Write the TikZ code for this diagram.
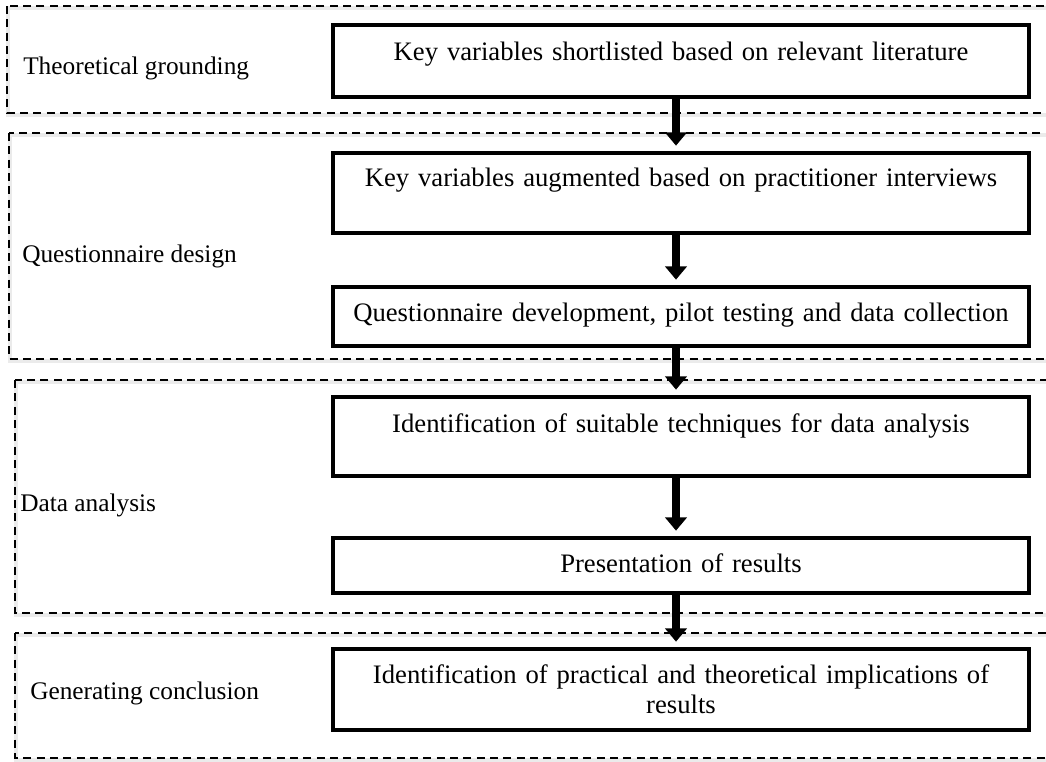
\documentclass[tikz,border=0pt]{standalone}
\usepackage{fontspec}
\setmainfont{Liberation Serif}
\usetikzlibrary{arrows.meta}

\begin{document}
\begin{tikzpicture}[x=0.75pt, y=-0.75pt,
  task/.style={draw, line width=3pt, inner sep=0pt, text width=522pt, align=center,
    font=\fontsize{20pt}{22.5pt}\selectfont},
  taskline/.style 2 args={task, anchor=base, text height=#1, text depth=#2},
  phasebox/.style={draw, line width=1.1pt, dash pattern=on 6pt off 4pt,
    preaction={draw=black!8, line width=3pt, solid, transform canvas={xshift=0.8pt, yshift=-1.5pt}}},
  phaselabel/.style={anchor=base west, inner sep=0pt, font=\fontsize{19pt}{22pt}\selectfont},
  flow/.style={line width=6.5pt, -{Triangle[width=16pt,length=10pt]}, shorten >=4pt}]

\useasboundingbox (0,0) rectangle (1046,761);

% phases (dashed frames run off the right edge)
\draw[phasebox] (7,6) rectangle (1052,113);
\draw[phasebox] (9,133) rectangle (1052,359);
\draw[phasebox] (15,380) rectangle (1052,613);
\draw[phasebox] (15,633) rectangle (1052,758);

\node[phaselabel] (p1) at (23,74) {Theoretical grounding};
\node[phaselabel] (p2) at (22,262) {Questionnaire design};
\node[phaselabel] (p3) at (20,511) {Data analysis};
\node[phaselabel] (p4) at (30,699) {Generating conclusion};

% steps
\node[taskline={26.25pt}{27.75pt}] (b1) at (681,60) {Key variables shortlisted based on relevant literature};
\node[taskline={24.75pt}{35.25pt}] (b2) at (681,186) {Key variables augmented based on practitioner interviews};
\node[taskline={25.5pt}{18.75pt}] (b3) at (681,321) {Questionnaire development, pilot testing and data collection};
\node[taskline={26.25pt}{33pt}] (b4) at (681,432) {Identification of suitable techniques for data analysis};
\node[taskline={25.5pt}{15.75pt}] (b5) at (681,572) {Presentation of results};
\node[task, minimum height=60.75pt] (b6) at (681,689.5) {Identification of practical and theoretical implications of\\ results};

\coordinate (ax) at (676,0);
\draw[flow] (b1.south -| ax) -- (b2.north -| ax);
\draw[flow] (b2.south -| ax) -- (b3.north -| ax);
\draw[flow] (b3.south -| ax) -- (b4.north -| ax);
\draw[flow] (b4.south -| ax) -- (b5.north -| ax);
\draw[flow] (b5.south -| ax) -- (b6.north -| ax);

\end{tikzpicture}
\end{document}
